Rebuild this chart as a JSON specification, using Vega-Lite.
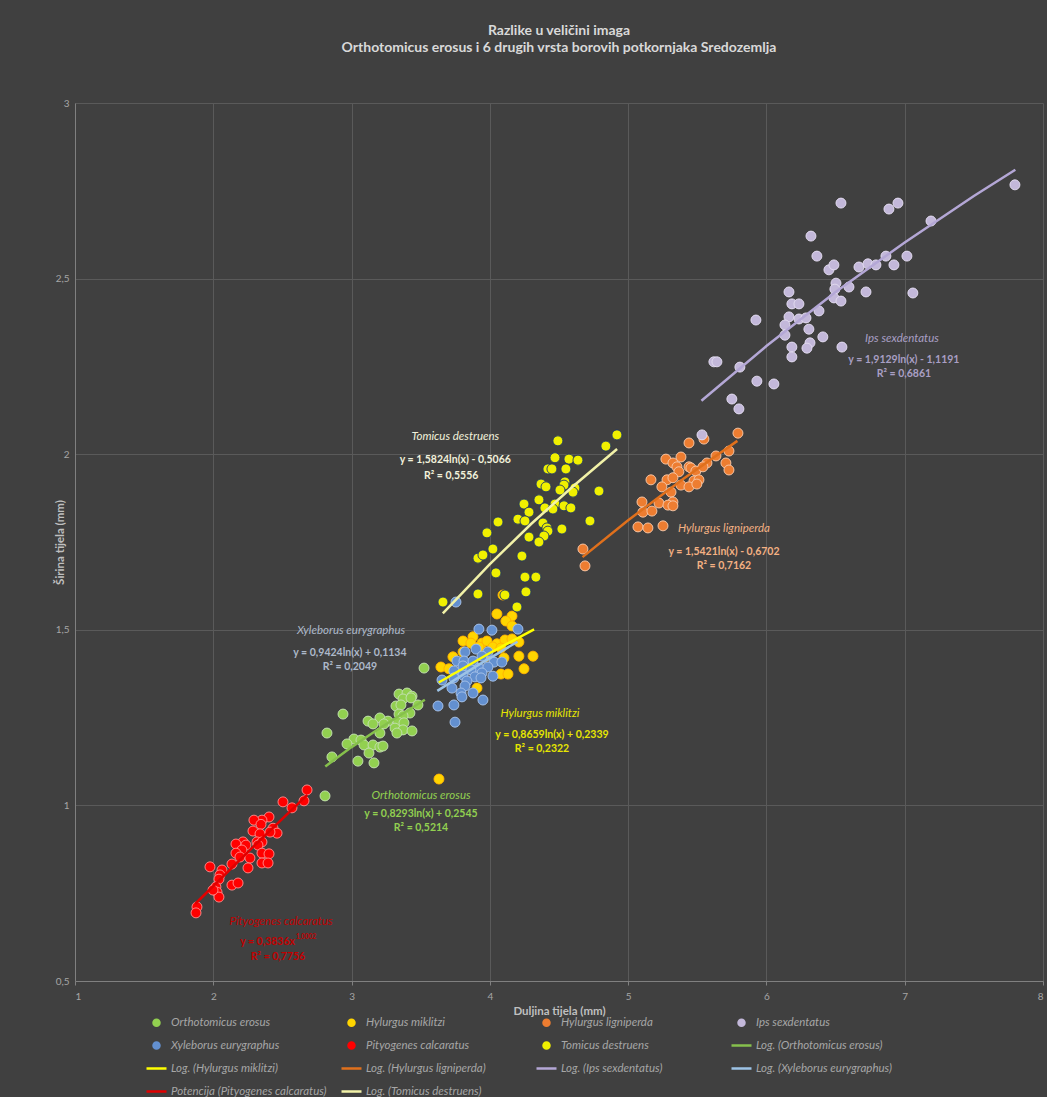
{
  "$schema": "https://vega.github.io/schema/vega-lite/v6.json",
  "width": 968,
  "height": 878,
  "autosize": {"type": "none"},
  "padding": {"left": 75, "top": 103, "right": 4, "bottom": 116},
  "background": "#404040",
  "config": {"view": {"stroke": null}, "font": "Lato"},
  "title": {
    "text": "Razlike u veličini imaga",
    "subtitle": "Orthotomicus erosus i 6  drugih vrsta borovih potkornjaka Sredozemlja",
    "anchor": "middle",
    "font": "Lato",
    "fontSize": 14,
    "fontWeight": "bold",
    "color": "#d9d9d9",
    "subtitleFont": "Lato",
    "subtitleFontSize": 14,
    "subtitleFontWeight": "bold",
    "subtitleColor": "#d9d9d9",
    "subtitlePadding": 3,
    "offset": 43
  },
  "datasets": {
    "pts": [
      {"s":"Orthotomicus erosus","x":3.524,"y":1.391},{"s":"Orthotomicus erosus","x":3.343,"y":1.317},{"s":"Orthotomicus erosus","x":3.401,"y":1.320},{"s":"Orthotomicus erosus","x":3.437,"y":1.311},{"s":"Orthotomicus erosus","x":3.372,"y":1.303},{"s":"Orthotomicus erosus","x":3.430,"y":1.306},{"s":"Orthotomicus erosus","x":3.321,"y":1.283},{"s":"Orthotomicus erosus","x":3.357,"y":1.286},{"s":"Orthotomicus erosus","x":3.480,"y":1.286},{"s":"Orthotomicus erosus","x":3.422,"y":1.263},{"s":"Orthotomicus erosus","x":3.343,"y":1.260},{"s":"Orthotomicus erosus","x":3.372,"y":1.255},{"s":"Orthotomicus erosus","x":2.938,"y":1.260},{"s":"Orthotomicus erosus","x":3.119,"y":1.240},{"s":"Orthotomicus erosus","x":3.205,"y":1.249},{"s":"Orthotomicus erosus","x":3.263,"y":1.240},{"s":"Orthotomicus erosus","x":3.336,"y":1.237},{"s":"Orthotomicus erosus","x":3.379,"y":1.235},{"s":"Orthotomicus erosus","x":3.155,"y":1.232},{"s":"Orthotomicus erosus","x":3.234,"y":1.232},{"s":"Orthotomicus erosus","x":3.314,"y":1.220},{"s":"Orthotomicus erosus","x":3.372,"y":1.215},{"s":"Orthotomicus erosus","x":3.437,"y":1.212},{"s":"Orthotomicus erosus","x":3.205,"y":1.206},{"s":"Orthotomicus erosus","x":3.328,"y":1.206},{"s":"Orthotomicus erosus","x":2.822,"y":1.206},{"s":"Orthotomicus erosus","x":3.017,"y":1.189},{"s":"Orthotomicus erosus","x":3.068,"y":1.186},{"s":"Orthotomicus erosus","x":2.967,"y":1.175},{"s":"Orthotomicus erosus","x":3.090,"y":1.172},{"s":"Orthotomicus erosus","x":3.155,"y":1.172},{"s":"Orthotomicus erosus","x":3.205,"y":1.166},{"s":"Orthotomicus erosus","x":3.227,"y":1.169},{"s":"Orthotomicus erosus","x":3.126,"y":1.149},{"s":"Orthotomicus erosus","x":2.858,"y":1.138},{"s":"Orthotomicus erosus","x":3.046,"y":1.126},{"s":"Orthotomicus erosus","x":3.162,"y":1.121},{"s":"Orthotomicus erosus","x":2.808,"y":1.027},
      {"s":"Hylurgus miklitzi","x":4.051,"y":1.545},{"s":"Hylurgus miklitzi","x":4.160,"y":1.539},{"s":"Hylurgus miklitzi","x":4.116,"y":1.525},{"s":"Hylurgus miklitzi","x":4.160,"y":1.511},{"s":"Hylurgus miklitzi","x":3.806,"y":1.468},{"s":"Hylurgus miklitzi","x":3.878,"y":1.480},{"s":"Hylurgus miklitzi","x":3.863,"y":1.462},{"s":"Hylurgus miklitzi","x":3.943,"y":1.462},{"s":"Hylurgus miklitzi","x":3.979,"y":1.468},{"s":"Hylurgus miklitzi","x":4.051,"y":1.460},{"s":"Hylurgus miklitzi","x":4.109,"y":1.471},{"s":"Hylurgus miklitzi","x":4.210,"y":1.465},{"s":"Hylurgus miklitzi","x":4.160,"y":1.474},{"s":"Hylurgus miklitzi","x":3.921,"y":1.451},{"s":"Hylurgus miklitzi","x":4.022,"y":1.451},{"s":"Hylurgus miklitzi","x":4.080,"y":1.448},{"s":"Hylurgus miklitzi","x":3.806,"y":1.437},{"s":"Hylurgus miklitzi","x":3.733,"y":1.423},{"s":"Hylurgus miklitzi","x":3.965,"y":1.423},{"s":"Hylurgus miklitzi","x":4.210,"y":1.425},{"s":"Hylurgus miklitzi","x":4.312,"y":1.425},{"s":"Hylurgus miklitzi","x":4.102,"y":1.420},{"s":"Hylurgus miklitzi","x":3.646,"y":1.394},{"s":"Hylurgus miklitzi","x":3.704,"y":1.389},{"s":"Hylurgus miklitzi","x":4.080,"y":1.374},{"s":"Hylurgus miklitzi","x":4.131,"y":1.374},{"s":"Hylurgus miklitzi","x":4.247,"y":1.389},{"s":"Hylurgus miklitzi","x":3.907,"y":1.334},{"s":"Hylurgus miklitzi","x":3.632,"y":1.075},{"s":"Hylurgus miklitzi","x":4.095,"y":1.599},
      {"s":"Hylurgus ligniperda","x":5.794,"y":2.060},{"s":"Hylurgus ligniperda","x":5.548,"y":2.043},{"s":"Hylurgus ligniperda","x":5.440,"y":2.032},{"s":"Hylurgus ligniperda","x":5.729,"y":2.009},{"s":"Hylurgus ligniperda","x":5.273,"y":1.986},{"s":"Hylurgus ligniperda","x":5.382,"y":1.992},{"s":"Hylurgus ligniperda","x":5.635,"y":1.995},{"s":"Hylurgus ligniperda","x":5.324,"y":1.975},{"s":"Hylurgus ligniperda","x":5.570,"y":1.975},{"s":"Hylurgus ligniperda","x":5.707,"y":1.975},{"s":"Hylurgus ligniperda","x":5.729,"y":1.955},{"s":"Hylurgus ligniperda","x":5.353,"y":1.964},{"s":"Hylurgus ligniperda","x":5.440,"y":1.964},{"s":"Hylurgus ligniperda","x":5.454,"y":1.961},{"s":"Hylurgus ligniperda","x":5.490,"y":1.952},{"s":"Hylurgus ligniperda","x":5.541,"y":1.964},{"s":"Hylurgus ligniperda","x":5.367,"y":1.950},{"s":"Hylurgus ligniperda","x":5.165,"y":1.927},{"s":"Hylurgus ligniperda","x":5.281,"y":1.927},{"s":"Hylurgus ligniperda","x":5.324,"y":1.933},{"s":"Hylurgus ligniperda","x":5.476,"y":1.924},{"s":"Hylurgus ligniperda","x":5.512,"y":1.927},{"s":"Hylurgus ligniperda","x":5.244,"y":1.907},{"s":"Hylurgus ligniperda","x":5.382,"y":1.912},{"s":"Hylurgus ligniperda","x":5.440,"y":1.907},{"s":"Hylurgus ligniperda","x":5.497,"y":1.915},{"s":"Hylurgus ligniperda","x":5.310,"y":1.892},{"s":"Hylurgus ligniperda","x":5.100,"y":1.864},{"s":"Hylurgus ligniperda","x":5.223,"y":1.861},{"s":"Hylurgus ligniperda","x":5.324,"y":1.864},{"s":"Hylurgus ligniperda","x":5.288,"y":1.855},{"s":"Hylurgus ligniperda","x":5.324,"y":1.853},{"s":"Hylurgus ligniperda","x":5.107,"y":1.835},{"s":"Hylurgus ligniperda","x":5.172,"y":1.838},{"s":"Hylurgus ligniperda","x":5.071,"y":1.793},{"s":"Hylurgus ligniperda","x":5.143,"y":1.790},{"s":"Hylurgus ligniperda","x":5.252,"y":1.796},{"s":"Hylurgus ligniperda","x":4.673,"y":1.730},{"s":"Hylurgus ligniperda","x":4.688,"y":1.682},
      {"s":"Ips sexdentatus","x":7.797,"y":2.767},{"s":"Ips sexdentatus","x":6.539,"y":2.715},{"s":"Ips sexdentatus","x":6.886,"y":2.698},{"s":"Ips sexdentatus","x":6.951,"y":2.715},{"s":"Ips sexdentatus","x":7.190,"y":2.664},{"s":"Ips sexdentatus","x":6.322,"y":2.621},{"s":"Ips sexdentatus","x":6.365,"y":2.564},{"s":"Ips sexdentatus","x":7.016,"y":2.564},{"s":"Ips sexdentatus","x":6.864,"y":2.564},{"s":"Ips sexdentatus","x":6.669,"y":2.533},{"s":"Ips sexdentatus","x":6.734,"y":2.542},{"s":"Ips sexdentatus","x":6.792,"y":2.539},{"s":"Ips sexdentatus","x":6.922,"y":2.539},{"s":"Ips sexdentatus","x":6.452,"y":2.525},{"s":"Ips sexdentatus","x":6.488,"y":2.539},{"s":"Ips sexdentatus","x":6.503,"y":2.487},{"s":"Ips sexdentatus","x":6.495,"y":2.470},{"s":"Ips sexdentatus","x":6.597,"y":2.476},{"s":"Ips sexdentatus","x":6.720,"y":2.462},{"s":"Ips sexdentatus","x":7.059,"y":2.459},{"s":"Ips sexdentatus","x":6.488,"y":2.445},{"s":"Ips sexdentatus","x":6.539,"y":2.436},{"s":"Ips sexdentatus","x":6.163,"y":2.462},{"s":"Ips sexdentatus","x":6.184,"y":2.428},{"s":"Ips sexdentatus","x":6.235,"y":2.428},{"s":"Ips sexdentatus","x":6.380,"y":2.408},{"s":"Ips sexdentatus","x":6.163,"y":2.391},{"s":"Ips sexdentatus","x":6.235,"y":2.385},{"s":"Ips sexdentatus","x":6.286,"y":2.388},{"s":"Ips sexdentatus","x":5.924,"y":2.382},{"s":"Ips sexdentatus","x":6.134,"y":2.368},{"s":"Ips sexdentatus","x":6.134,"y":2.339},{"s":"Ips sexdentatus","x":6.307,"y":2.356},{"s":"Ips sexdentatus","x":6.408,"y":2.334},{"s":"Ips sexdentatus","x":6.184,"y":2.305},{"s":"Ips sexdentatus","x":6.315,"y":2.317},{"s":"Ips sexdentatus","x":6.293,"y":2.302},{"s":"Ips sexdentatus","x":6.184,"y":2.277},{"s":"Ips sexdentatus","x":6.546,"y":2.305},{"s":"Ips sexdentatus","x":5.620,"y":2.263},{"s":"Ips sexdentatus","x":5.642,"y":2.263},{"s":"Ips sexdentatus","x":5.808,"y":2.248},{"s":"Ips sexdentatus","x":5.931,"y":2.208},{"s":"Ips sexdentatus","x":6.054,"y":2.200},{"s":"Ips sexdentatus","x":5.750,"y":2.157},{"s":"Ips sexdentatus","x":5.801,"y":2.129},{"s":"Ips sexdentatus","x":5.534,"y":2.055},
      {"s":"Xyleborus eurygraphus","x":3.921,"y":1.502},{"s":"Xyleborus eurygraphus","x":4.015,"y":1.499},{"s":"Xyleborus eurygraphus","x":4.203,"y":1.502},{"s":"Xyleborus eurygraphus","x":3.900,"y":1.445},{"s":"Xyleborus eurygraphus","x":3.820,"y":1.437},{"s":"Xyleborus eurygraphus","x":3.986,"y":1.437},{"s":"Xyleborus eurygraphus","x":3.943,"y":1.425},{"s":"Xyleborus eurygraphus","x":3.762,"y":1.411},{"s":"Xyleborus eurygraphus","x":3.813,"y":1.411},{"s":"Xyleborus eurygraphus","x":3.878,"y":1.411},{"s":"Xyleborus eurygraphus","x":4.030,"y":1.408},{"s":"Xyleborus eurygraphus","x":4.087,"y":1.408},{"s":"Xyleborus eurygraphus","x":3.806,"y":1.397},{"s":"Xyleborus eurygraphus","x":3.921,"y":1.391},{"s":"Xyleborus eurygraphus","x":3.986,"y":1.394},{"s":"Xyleborus eurygraphus","x":3.863,"y":1.386},{"s":"Xyleborus eurygraphus","x":3.740,"y":1.383},{"s":"Xyleborus eurygraphus","x":3.943,"y":1.377},{"s":"Xyleborus eurygraphus","x":3.806,"y":1.371},{"s":"Xyleborus eurygraphus","x":3.740,"y":1.363},{"s":"Xyleborus eurygraphus","x":3.892,"y":1.366},{"s":"Xyleborus eurygraphus","x":3.936,"y":1.363},{"s":"Xyleborus eurygraphus","x":4.022,"y":1.368},{"s":"Xyleborus eurygraphus","x":3.834,"y":1.354},{"s":"Xyleborus eurygraphus","x":3.654,"y":1.357},{"s":"Xyleborus eurygraphus","x":3.726,"y":1.334},{"s":"Xyleborus eurygraphus","x":3.820,"y":1.340},{"s":"Xyleborus eurygraphus","x":3.791,"y":1.320},{"s":"Xyleborus eurygraphus","x":3.878,"y":1.320},{"s":"Xyleborus eurygraphus","x":3.798,"y":1.309},{"s":"Xyleborus eurygraphus","x":3.950,"y":1.300},{"s":"Xyleborus eurygraphus","x":3.740,"y":1.286},{"s":"Xyleborus eurygraphus","x":3.625,"y":1.283},{"s":"Xyleborus eurygraphus","x":3.748,"y":1.237},{"s":"Xyleborus eurygraphus","x":3.755,"y":1.579},
      {"s":"Pityogenes calcaratus","x":2.678,"y":1.044},{"s":"Pityogenes calcaratus","x":2.656,"y":1.013},{"s":"Pityogenes calcaratus","x":2.504,"y":1.010},{"s":"Pityogenes calcaratus","x":2.569,"y":0.993},{"s":"Pityogenes calcaratus","x":2.403,"y":0.967},{"s":"Pityogenes calcaratus","x":2.352,"y":0.958},{"s":"Pityogenes calcaratus","x":2.294,"y":0.958},{"s":"Pityogenes calcaratus","x":2.345,"y":0.946},{"s":"Pityogenes calcaratus","x":2.432,"y":0.935},{"s":"Pityogenes calcaratus","x":2.287,"y":0.927},{"s":"Pityogenes calcaratus","x":2.461,"y":0.921},{"s":"Pityogenes calcaratus","x":2.410,"y":0.924},{"s":"Pityogenes calcaratus","x":2.338,"y":0.919},{"s":"Pityogenes calcaratus","x":2.316,"y":0.896},{"s":"Pityogenes calcaratus","x":2.352,"y":0.896},{"s":"Pityogenes calcaratus","x":2.323,"y":0.887},{"s":"Pityogenes calcaratus","x":2.215,"y":0.896},{"s":"Pityogenes calcaratus","x":2.164,"y":0.890},{"s":"Pityogenes calcaratus","x":2.236,"y":0.887},{"s":"Pityogenes calcaratus","x":2.207,"y":0.873},{"s":"Pityogenes calcaratus","x":2.164,"y":0.864},{"s":"Pityogenes calcaratus","x":2.352,"y":0.864},{"s":"Pityogenes calcaratus","x":2.403,"y":0.862},{"s":"Pityogenes calcaratus","x":2.193,"y":0.853},{"s":"Pityogenes calcaratus","x":2.265,"y":0.850},{"s":"Pityogenes calcaratus","x":2.352,"y":0.836},{"s":"Pityogenes calcaratus","x":2.396,"y":0.836},{"s":"Pityogenes calcaratus","x":2.135,"y":0.833},{"s":"Pityogenes calcaratus","x":1.976,"y":0.825},{"s":"Pityogenes calcaratus","x":2.251,"y":0.822},{"s":"Pityogenes calcaratus","x":2.063,"y":0.816},{"s":"Pityogenes calcaratus","x":2.048,"y":0.802},{"s":"Pityogenes calcaratus","x":2.041,"y":0.790},{"s":"Pityogenes calcaratus","x":2.019,"y":0.768},{"s":"Pityogenes calcaratus","x":2.135,"y":0.773},{"s":"Pityogenes calcaratus","x":2.179,"y":0.779},{"s":"Pityogenes calcaratus","x":2.027,"y":0.753},{"s":"Pityogenes calcaratus","x":2.041,"y":0.739},{"s":"Pityogenes calcaratus","x":1.998,"y":0.759},{"s":"Pityogenes calcaratus","x":1.882,"y":0.711},{"s":"Pityogenes calcaratus","x":1.875,"y":0.694},
      {"s":"Tomicus destruens","x":4.919,"y":2.055},{"s":"Tomicus destruens","x":4.839,"y":2.023},{"s":"Tomicus destruens","x":4.492,"y":2.038},{"s":"Tomicus destruens","x":4.471,"y":1.990},{"s":"Tomicus destruens","x":4.572,"y":1.986},{"s":"Tomicus destruens","x":4.637,"y":1.983},{"s":"Tomicus destruens","x":4.420,"y":1.958},{"s":"Tomicus destruens","x":4.449,"y":1.958},{"s":"Tomicus destruens","x":4.550,"y":1.958},{"s":"Tomicus destruens","x":4.543,"y":1.921},{"s":"Tomicus destruens","x":4.536,"y":1.912},{"s":"Tomicus destruens","x":4.370,"y":1.915},{"s":"Tomicus destruens","x":4.406,"y":1.907},{"s":"Tomicus destruens","x":4.615,"y":1.904},{"s":"Tomicus destruens","x":4.601,"y":1.892},{"s":"Tomicus destruens","x":4.507,"y":1.898},{"s":"Tomicus destruens","x":4.789,"y":1.895},{"s":"Tomicus destruens","x":4.247,"y":1.858},{"s":"Tomicus destruens","x":4.355,"y":1.870},{"s":"Tomicus destruens","x":4.398,"y":1.847},{"s":"Tomicus destruens","x":4.471,"y":1.858},{"s":"Tomicus destruens","x":4.536,"y":1.853},{"s":"Tomicus destruens","x":4.586,"y":1.847},{"s":"Tomicus destruens","x":4.456,"y":1.844},{"s":"Tomicus destruens","x":4.283,"y":1.835},{"s":"Tomicus destruens","x":4.203,"y":1.815},{"s":"Tomicus destruens","x":4.254,"y":1.810},{"s":"Tomicus destruens","x":4.059,"y":1.807},{"s":"Tomicus destruens","x":4.384,"y":1.804},{"s":"Tomicus destruens","x":4.413,"y":1.790},{"s":"Tomicus destruens","x":4.420,"y":1.781},{"s":"Tomicus destruens","x":4.521,"y":1.787},{"s":"Tomicus destruens","x":4.724,"y":1.810},{"s":"Tomicus destruens","x":3.979,"y":1.776},{"s":"Tomicus destruens","x":4.283,"y":1.764},{"s":"Tomicus destruens","x":4.391,"y":1.767},{"s":"Tomicus destruens","x":4.355,"y":1.750},{"s":"Tomicus destruens","x":4.022,"y":1.730},{"s":"Tomicus destruens","x":3.914,"y":1.704},{"s":"Tomicus destruens","x":3.950,"y":1.713},{"s":"Tomicus destruens","x":4.232,"y":1.710},{"s":"Tomicus destruens","x":4.044,"y":1.662},{"s":"Tomicus destruens","x":4.254,"y":1.650},{"s":"Tomicus destruens","x":4.333,"y":1.650},{"s":"Tomicus destruens","x":4.109,"y":1.599},{"s":"Tomicus destruens","x":3.914,"y":1.602},{"s":"Tomicus destruens","x":4.261,"y":1.608},{"s":"Tomicus destruens","x":3.661,"y":1.579},{"s":"Tomicus destruens","x":4.196,"y":1.565}
    ],
    "trend": [
      {"s":"Log. (Orthotomicus erosus)","x":2.81,"y":1.111},{"s":"Log. (Orthotomicus erosus)","x":3.0,"y":1.166},{"s":"Log. (Orthotomicus erosus)","x":3.2,"y":1.219},{"s":"Log. (Orthotomicus erosus)","x":3.53,"y":1.301},
      {"s":"Log. (Hylurgus miklitzi)","x":3.63,"y":1.350},{"s":"Log. (Hylurgus miklitzi)","x":4.0,"y":1.434},{"s":"Log. (Hylurgus miklitzi)","x":4.32,"y":1.501},
      {"s":"Log. (Hylurgus ligniperda)","x":4.67,"y":1.707},{"s":"Log. (Hylurgus ligniperda)","x":5.0,"y":1.812},{"s":"Log. (Hylurgus ligniperda)","x":5.4,"y":1.930},{"s":"Log. (Hylurgus ligniperda)","x":5.79,"y":2.038},
      {"s":"Log. (Ips sexdentatus)","x":5.53,"y":2.152},{"s":"Log. (Ips sexdentatus)","x":6.0,"y":2.308},{"s":"Log. (Ips sexdentatus)","x":6.5,"y":2.462},{"s":"Log. (Ips sexdentatus)","x":7.0,"y":2.603},{"s":"Log. (Ips sexdentatus)","x":7.5,"y":2.735},{"s":"Log. (Ips sexdentatus)","x":7.8,"y":2.810},
      {"s":"Log. (Xyleborus eurygraphus)","x":3.62,"y":1.326},{"s":"Log. (Xyleborus eurygraphus)","x":3.9,"y":1.396},{"s":"Log. (Xyleborus eurygraphus)","x":4.2,"y":1.466},
      {"s":"Potencija (Pityogenes calcaratus)","x":1.87,"y":0.720},{"s":"Potencija (Pityogenes calcaratus)","x":2.27,"y":0.875},{"s":"Potencija (Pityogenes calcaratus)","x":2.68,"y":1.030},
      {"s":"Log. (Tomicus destruens)","x":3.66,"y":1.547},{"s":"Log. (Tomicus destruens)","x":4.0,"y":1.687},{"s":"Log. (Tomicus destruens)","x":4.3,"y":1.802},{"s":"Log. (Tomicus destruens)","x":4.6,"y":1.908},{"s":"Log. (Tomicus destruens)","x":4.92,"y":2.015}
    ],
    "ann": [
      {"s":"Tomicus destruens","k":"name","x":3.75,"y":2.049,"t":"Tomicus destruens"},
      {"s":"Tomicus destruens","k":"eq","x":3.75,"y":1.983,"t":"y = 1,5824ln(x) - 0,5066"},
      {"s":"Tomicus destruens","k":"eq","x":3.72,"y":1.938,"t":"R² = 0,5556"},
      {"s":"Ips sexdentatus","k":"name","x":6.98,"y":2.328,"t":"Ips sexdentatus"},
      {"s":"Ips sexdentatus","k":"eq","x":6.994,"y":2.268,"t":"y = 1,9129ln(x) - 1,1191"},
      {"s":"Ips sexdentatus","k":"eq","x":6.994,"y":2.228,"t":"R² = 0,6861"},
      {"s":"Hylurgus ligniperda","k":"name","x":5.693,"y":1.787,"t":"Hylurgus ligniperda"},
      {"s":"Hylurgus ligniperda","k":"eq","x":5.693,"y":1.722,"t":"y = 1,5421ln(x) - 0,6702"},
      {"s":"Hylurgus ligniperda","k":"eq","x":5.693,"y":1.682,"t":"R² = 0,7162"},
      {"s":"Xyleborus eurygraphus","k":"name","x":2.996,"y":1.497,"t":"Xyleborus eurygraphus"},
      {"s":"Xyleborus eurygraphus","k":"eq","x":2.988,"y":1.434,"t":"y = 0,9424ln(x) + 0,1134"},
      {"s":"Xyleborus eurygraphus","k":"eq","x":2.988,"y":1.394,"t":"R² = 0,2049"},
      {"s":"Hylurgus miklitzi","k":"name","x":4.362,"y":1.260,"t":"Hylurgus miklitzi"},
      {"s":"Hylurgus miklitzi","k":"eq","x":4.449,"y":1.200,"t":"y = 0,8659ln(x) + 0,2339"},
      {"s":"Hylurgus miklitzi","k":"eq","x":4.377,"y":1.161,"t":"R² = 0,2322"},
      {"s":"Orthotomicus erosus","k":"name","x":3.502,"y":1.027,"t":"Orthotomicus erosus"},
      {"s":"Orthotomicus erosus","k":"eq","x":3.502,"y":0.976,"t":"y = 0,8293ln(x) + 0,2545"},
      {"s":"Orthotomicus erosus","k":"eq","x":3.502,"y":0.936,"t":"R² = 0,5214"},
      {"s":"Pityogenes calcaratus","k":"name","x":2.49,"y":0.668,"t":"Pityogenes calcaratus"},
      {"s":"Pityogenes calcaratus","k":"eqR","x":2.591,"y":0.611,"t":"y = 0,3836x"},
      {"s":"Pityogenes calcaratus","k":"sup","x":2.598,"y":0.624,"t":"1,0002"},
      {"s":"Pityogenes calcaratus","k":"eq","x":2.468,"y":0.568,"t":"R² = 0,7756"}
    ]
  },
  "layer": [
    {
      "data": {"name": "pts"},
      "mark": {"type": "point", "filled": true, "size": 1111, "strokeWidth": 0.9, "opacity": 1},
      "encoding": {
        "x": {"field": "x", "type": "quantitative",
          "scale": {"domain": [1, 8], "nice": false, "zero": false},
          "axis": {"values": [1,2,3,4,5,6,7,8], "format": "d", "title": "Duljina tijela (mm)", "grid": true, "gridColor": "#5a5a5a", "domainColor": "#808080", "tickColor": "#808080", "tickSize": 4, "labelColor": "#a6a6a6", "labelFont": "Lato", "labelFontSize": 10, "labelPadding": 6, "titleColor": "#bfbfbf", "titleFont": "Lato", "titleFontSize": 11.5, "titleFontWeight": "bold", "titlePadding": 4}},
        "y": {"field": "y", "type": "quantitative",
          "scale": {"domain": [0.5, 3], "nice": false, "zero": false},
          "axis": {"values": [0.5,1,1.5,2,2.5,3], "labelExpr": "replace(format(datum.value, '~g'), '.', ',')", "title": "Širina tijela (mm)", "grid": true, "gridColor": "#5a5a5a", "domainColor": "#808080", "ticks": false, "labelColor": "#a6a6a6", "labelFont": "Lato", "labelFontSize": 10, "labelPadding": 6, "titleColor": "#bfbfbf", "titleFont": "Lato", "titleFontSize": 11.5, "titleFontWeight": "bold", "titlePadding": -10}},
        "color": {"field": "s", "type": "nominal",
          "scale": {
            "domain": ["Orthotomicus erosus","Hylurgus miklitzi","Hylurgus ligniperda","Ips sexdentatus","Xyleborus eurygraphus","Pityogenes calcaratus","Tomicus destruens","Log. (Orthotomicus erosus)","Log. (Hylurgus miklitzi)","Log. (Hylurgus ligniperda)","Log. (Ips sexdentatus)","Log. (Xyleborus eurygraphus)","Potencija (Pityogenes calcaratus)","Log. (Tomicus destruens)"],
            "range": ["#92d050","#ffd500","#ed7d31","#c3b8da","#6390d0","#ff0000","#f0f000","#86c04c","#ffff00","#e0701c","#b4a7d6","#9dc3e6","#e00000","#f2f2a8"]
          },
          "legend": {
            "title": null,
            "orient": "none",
            "legendX": 70,
            "legendY": 908,
            "direction": "horizontal",
            "columns": 4,
            "gridAlign": "all",
            "columnPadding": 9,
            "rowPadding": 3,
            "symbolSize": 400,
            "symbolStrokeWidth": 2.5,
            "labelOffset": 3,
            "labelFont": "Lato",
            "labelFontSize": 11.5,
            "labelFontStyle": "italic",
            "labelColor": "#a6a6a6",
            "labelLimit": 300
          }
        },
        "shape": {"field": "s", "type": "nominal",
          "scale": {
            "domain": ["Orthotomicus erosus","Hylurgus miklitzi","Hylurgus ligniperda","Ips sexdentatus","Xyleborus eurygraphus","Pityogenes calcaratus","Tomicus destruens","Log. (Orthotomicus erosus)","Log. (Hylurgus miklitzi)","Log. (Hylurgus ligniperda)","Log. (Ips sexdentatus)","Log. (Xyleborus eurygraphus)","Potencija (Pityogenes calcaratus)","Log. (Tomicus destruens)"],
            "range": ["M0.3,0A0.3,0.3,0,1,1,-0.3,0A0.3,0.3,0,1,1,0.3,0Z","M0.3,0A0.3,0.3,0,1,1,-0.3,0A0.3,0.3,0,1,1,0.3,0Z","M0.3,0A0.3,0.3,0,1,1,-0.3,0A0.3,0.3,0,1,1,0.3,0Z","M0.3,0A0.3,0.3,0,1,1,-0.3,0A0.3,0.3,0,1,1,0.3,0Z","M0.3,0A0.3,0.3,0,1,1,-0.3,0A0.3,0.3,0,1,1,0.3,0Z","M0.3,0A0.3,0.3,0,1,1,-0.3,0A0.3,0.3,0,1,1,0.3,0Z","M0.3,0A0.3,0.3,0,1,1,-0.3,0A0.3,0.3,0,1,1,0.3,0Z","stroke","stroke","stroke","stroke","stroke","stroke","stroke"]
          },
          "legend": {"title": null}
        },
        "stroke": {"field": "s", "type": "nominal", "legend": null,
          "scale": {
            "domain": ["Orthotomicus erosus","Hylurgus miklitzi","Hylurgus ligniperda","Ips sexdentatus","Xyleborus eurygraphus","Pityogenes calcaratus","Tomicus destruens"],
            "range": ["#c5e0b4","#ffb000","#f8cbad","#e4def0","#a9c4ea","#ff9090","#1f3864"]
          }
        }
      }
    },
    {
      "data": {"name": "trend"},
      "mark": {"type": "line", "strokeWidth": 2.5},
      "encoding": {
        "x": {"field": "x", "type": "quantitative"},
        "y": {"field": "y", "type": "quantitative"},
        "color": {"field": "s", "type": "nominal"}
      }
    },
    {
      "data": {"name": "ann"},
      "transform": [{"filter": "datum.k === 'name'"}],
      "mark": {"type": "text", "font": "Lato", "fontSize": 11.5, "fontStyle": "italic", "align": "center", "baseline": "middle"},
      "encoding": {
        "x": {"field": "x", "type": "quantitative"},
        "y": {"field": "y", "type": "quantitative"},
        "text": {"field": "t"},
        "fill": {"field": "s", "type": "nominal", "legend": null,
          "scale": {
            "domain": ["Orthotomicus erosus","Hylurgus miklitzi","Hylurgus ligniperda","Ips sexdentatus","Xyleborus eurygraphus","Pityogenes calcaratus","Tomicus destruens"],
            "range": ["#92d050","#e6e600","#f4b183","#a99fc4","#adb9ca","#c00000","#f2f2dc"]
          }
        }
      }
    },
    {
      "data": {"name": "ann"},
      "transform": [{"filter": "datum.k === 'eq'"}],
      "mark": {"type": "text", "font": "Lato", "fontSize": 10.5, "fontWeight": "bold", "align": "center", "baseline": "middle"},
      "encoding": {
        "x": {"field": "x", "type": "quantitative"},
        "y": {"field": "y", "type": "quantitative"},
        "text": {"field": "t"},
        "fill": {"field": "s", "type": "nominal", "legend": null}
      }
    },
    {
      "data": {"name": "ann"},
      "transform": [{"filter": "datum.k === 'eqR'"}],
      "mark": {"type": "text", "font": "Lato", "fontSize": 10.5, "fontWeight": "bold", "align": "right", "baseline": "middle"},
      "encoding": {
        "x": {"field": "x", "type": "quantitative"},
        "y": {"field": "y", "type": "quantitative"},
        "text": {"field": "t"},
        "fill": {"field": "s", "type": "nominal", "legend": null}
      }
    },
    {
      "data": {"name": "ann"},
      "transform": [{"filter": "datum.k === 'sup'"}],
      "mark": {"type": "text", "font": "Lato", "fontSize": 6.5, "fontWeight": "bold", "align": "left", "baseline": "middle"},
      "encoding": {
        "x": {"field": "x", "type": "quantitative"},
        "y": {"field": "y", "type": "quantitative"},
        "text": {"field": "t"},
        "fill": {"field": "s", "type": "nominal", "legend": null}
      }
    }
  ]
}
